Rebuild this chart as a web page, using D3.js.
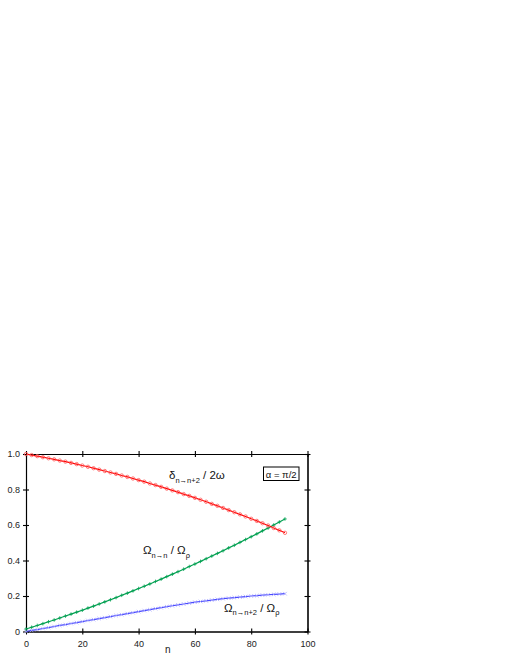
<!DOCTYPE html>
<html>
<head>
<meta charset="utf-8">
<script src="https://cdn.jsdelivr.net/npm/d3@7"></script>
<style>
  body { margin: 0; background: #fff; }
  text { font-family: "Liberation Sans", Arial, Helvetica, sans-serif; }
</style>
</head>
<body>
<div id="chart"></div>
<script>
// values (every second n)
const nValues = [0, 2, 4, 6, 8, 10, 12, 14, 16, 18, 20, 22, 24, 26, 28, 30, 32, 34, 36, 38,
  40, 42, 44, 46, 48, 50, 52, 54, 56, 58, 60, 62, 64, 66, 68, 70, 72, 74, 76, 78,
  80, 82, 84, 86, 88, 90, 92];

const deltaRatio = [1.000, 0.994, 0.988, 0.982, 0.976, 0.970, 0.963, 0.957, 0.950, 0.943,
  0.935, 0.928, 0.920, 0.912, 0.904, 0.896, 0.888, 0.879, 0.871, 0.862,
  0.853, 0.844, 0.834, 0.825, 0.815, 0.805, 0.795, 0.785, 0.774, 0.764,
  0.753, 0.742, 0.731, 0.719, 0.708, 0.696, 0.684, 0.672, 0.660, 0.648,
  0.635, 0.623, 0.610, 0.597, 0.583, 0.570, 0.556];

const omegaSame = [0.014, 0.024, 0.034, 0.044, 0.055, 0.065, 0.076, 0.087, 0.098, 0.109,
  0.120, 0.132, 0.143, 0.155, 0.167, 0.179, 0.191, 0.204, 0.216, 0.229,
  0.242, 0.255, 0.268, 0.282, 0.295, 0.309, 0.323, 0.337, 0.351, 0.366,
  0.380, 0.395, 0.410, 0.425, 0.440, 0.455, 0.471, 0.486, 0.502, 0.518,
  0.534, 0.550, 0.567, 0.583, 0.600, 0.617, 0.634];

const omegaNext = [0.000, 0.006, 0.011, 0.017, 0.022, 0.028, 0.034, 0.039, 0.045, 0.050,
  0.056, 0.062, 0.067, 0.073, 0.078, 0.084, 0.090, 0.095, 0.101, 0.106,
  0.112, 0.118, 0.123, 0.129, 0.134, 0.140, 0.145, 0.150, 0.155, 0.160,
  0.165, 0.169, 0.173, 0.177, 0.181, 0.185, 0.188, 0.191, 0.194, 0.197,
  0.200, 0.202, 0.205, 0.207, 0.209, 0.211, 0.213];

const xTicks = [0, 20, 40, 60, 80, 100];
const yTicks = [0, 0.2, 0.4, 0.6, 0.8, 1.0];
const yTickLabels = ['0', '0.2', '0.4', '0.6', '0.8', '1.0'];

const width = 510, height = 660;

const svg = d3.select('#chart').append('svg')
  .attr('width', width)
  .attr('height', height);

const x = d3.scaleLinear().domain([0, 100]).range([26, 307.5]);
const y = d3.scaleLinear().domain([0, 1]).range([631.5, 454]);

const x0 = x(0), x1 = x(100), y0 = y(0), y1 = y(1);

// axes: ticks cross the frame, so each side gets an outward and an inward axis
function styleAxis(g) {
  g.selectAll('path.domain').attr('stroke', '#000').attr('stroke-width', 1.1);
  g.selectAll('.tick line').attr('stroke', '#000').attr('stroke-width', 1.1);
  g.selectAll('text').attr('font-size', '9px').attr('fill', '#222')
    .attr('font-family', '"Liberation Sans", Arial, sans-serif');
}

svg.append('g').attr('transform', `translate(0,${y0})`)
  .call(d3.axisBottom(x).tickValues(xTicks).tickSize(3).tickSizeOuter(0).tickPadding(6)
    .tickFormat(d3.format('d')))
  .call(styleAxis);
svg.append('g').attr('transform', `translate(0,${y0})`)
  .call(d3.axisTop(x).tickValues(xTicks).tickSize(3).tickSizeOuter(0).tickFormat(''))
  .call(styleAxis);
svg.append('g').attr('transform', `translate(0,${y1})`)
  .call(d3.axisTop(x).tickValues(xTicks).tickSize(3).tickSizeOuter(0).tickFormat(''))
  .call(styleAxis);
svg.append('g').attr('transform', `translate(0,${y1})`)
  .call(d3.axisBottom(x).tickValues(xTicks).tickSize(3).tickSizeOuter(0).tickFormat(''))
  .call(styleAxis);

svg.append('g').attr('transform', `translate(${x0},0)`)
  .call(d3.axisLeft(y).tickValues(yTicks).tickSize(3).tickSizeOuter(0).tickPadding(3)
    .tickFormat((d, i) => yTickLabels[i]))
  .call(styleAxis);
svg.append('g').attr('transform', `translate(${x0},0)`)
  .call(d3.axisRight(y).tickValues(yTicks).tickSize(3).tickSizeOuter(0).tickFormat(''))
  .call(styleAxis);
svg.append('g').attr('transform', `translate(${x1},0)`)
  .call(d3.axisRight(y).tickValues(yTicks).tickSize(3).tickSizeOuter(0).tickFormat(''))
  .call(styleAxis);
svg.append('g').attr('transform', `translate(${x1},0)`)
  .call(d3.axisLeft(y).tickValues(yTicks).tickSize(3).tickSizeOuter(0).tickFormat(''))
  .call(styleAxis);

// x axis title
svg.append('text')
  .attr('x', x(50) + 1)
  .attr('y', 653)
  .attr('text-anchor', 'middle')
  .attr('font-size', '10px')
  .attr('fill', '#222')
  .text('n');

// series
const toPoints = (vals) => nValues.map((n, i) => ({ n, v: vals[i] }));
const line = d3.line().x((d) => x(d.n)).y((d) => y(d.v));

const series = [
  { vals: omegaNext, line: '#4a4aff', mark: '#a8a8ff', shape: 'x' },
  { vals: omegaSame, line: '#00a050', mark: '#00a050', shape: '+' },
  { vals: deltaRatio, line: '#ff0000', mark: '#ff5a5a', shape: 'o' },
];

series.forEach((s) => {
  const pts = toPoints(s.vals);
  const g = svg.append('g');
  g.append('path')
    .datum(pts)
    .attr('d', line)
    .attr('fill', 'none')
    .attr('stroke', s.line)
    .attr('stroke-width', 1.2);

  if (s.shape === 'o') {
    g.selectAll('circle').data(pts).join('circle')
      .attr('cx', (d) => x(d.n))
      .attr('cy', (d) => y(d.v))
      .attr('r', 1.7)
      .attr('fill', 'none')
      .attr('stroke', s.mark)
      .attr('stroke-width', 0.8);
  } else {
    const h = 1.8;
    const p = s.shape === '+'
      ? `M${-h},0H${h}M0,${-h}V${h}`
      : `M${-h},${-h}L${h},${h}M${-h},${h}L${h},${-h}`;
    g.selectAll('path.mk').data(pts).join('path')
      .attr('class', 'mk')
      .attr('transform', (d) => `translate(${x(d.n)},${y(d.v)})`)
      .attr('d', p)
      .attr('fill', 'none')
      .attr('stroke', s.mark)
      .attr('stroke-width', 0.8);
  }
});

// curve labels with subscripts
function label(px, py, parts) {
  const t = svg.append('text').attr('x', px).attr('y', py).attr('fill', '#111');
  let shift = 0;
  parts.forEach(([str, sub]) => {
    const want = sub ? 3.5 : 0;
    t.append('tspan')
      .attr('dy', want - shift)
      .attr('font-size', sub ? '7.5px' : '11.5px')
      .text(str);
    shift = want;
  });
}

label(169, 479, [['δ', false], ['n→n+2', true], [' / 2ω', false]]);
label(143, 554, [['Ω', false], ['n→n', true], [' / Ω', false], ['ρ', true]]);
label(224, 611.5, [['Ω', false], ['n→n+2', true], [' / Ω', false], ['ρ', true]]);

// alpha box
svg.append('rect')
  .attr('x', 263.5).attr('y', 467)
  .attr('width', 35.5).attr('height', 13.5)
  .attr('fill', '#fff')
  .attr('stroke', '#000')
  .attr('stroke-width', 1);
svg.append('text')
  .attr('x', 281.2).attr('y', 477.6)
  .attr('text-anchor', 'middle')
  .attr('font-size', '9.5px')
  .attr('fill', '#111')
  .text('α = π/2');
</script>
</body>
</html>
